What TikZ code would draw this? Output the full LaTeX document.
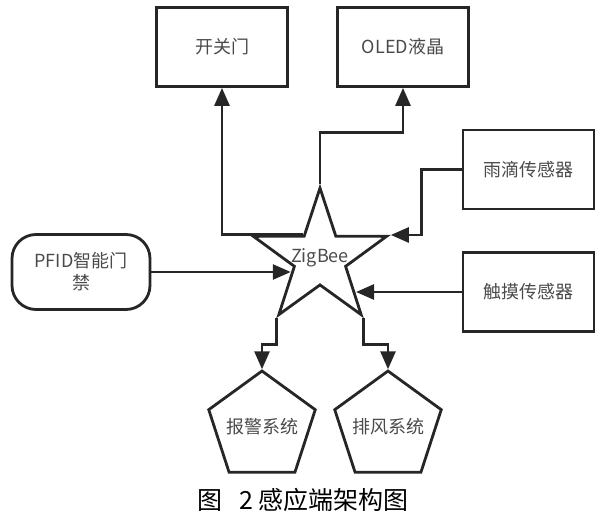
\documentclass[tikz,border=0pt]{standalone}
\usepackage{fontspec}
\setmainfont{Noto Sans CJK SC}
\usetikzlibrary{arrows.meta,
	calc,
	shapes}
\definecolor{linec}{HTML}{262626}
\definecolor{textc}{HTML}{4a4a4a}

\begin{document}
\begin{tikzpicture}[x=1pt,y=-1pt,line width=2.8pt,color=linec]
        \tikzstyle{box}=[draw,rectangle,minimum width=131pt,minimum height=79pt,inner sep=0pt,text=textc,font=\fontsize{18}{22}\selectfont]
        \tikzstyle{pill}=[box,rounded corners=24pt,minimum width=138pt,minimum height=75pt,align=center]
        \tikzstyle{penta}=[draw,regular polygon,regular polygon sides=5,minimum size=112pt,inner sep=0pt,text=textc,font=\fontsize{18}{22}\selectfont]
        \tikzstyle{link}=[-{Triangle[length=18pt,width=15pt]}]
        \useasboundingbox (0,0) rectangle (608,521);
        % outputs on top
        \node[box] (door) at (222,47) {开关门};
        \node[box] (oled) at (403,47) {OLED液晶};
        % sensors on the right
        \node[box] (rain) at (528.5,169.5) {雨滴传感器};
        \node[box] (touch) at (528.5,292) {触摸传感器};
        \node[pill] (pfid) at (81,272) {PFID智能门\\禁};
        % the coordinator
        \node[draw,star,star points=5,star point ratio=2.6,minimum size=140pt,inner sep=0pt] (zig) at (320,258) {};
        \node[text=textc,font=\fontsize{18}{22}\selectfont] (zig_lbl) at (zig.center) {ZigBee};
        \node[penta] (alarm) at (262,427) {\makebox[0pt]{报警系统}};
        \node[penta] (fan) at (388,427) {\makebox[0pt]{排风系统}};
        \coordinate (pfid_tip) at ($(zig.inner point 2)!0.12!(zig.outer point 3)$);
        \coordinate (touch_tip) at ($(zig.inner point 4)!0.53!(zig.outer point 4)$);
        \draw[link] (zig.inner point 1) -| (door.south);
        \draw[link] (zig.outer point 1) -- ++(0,-51) -| (oled.south);
        \draw[link] (rain.west) -- ++(-40,0) |- (zig.outer point 5);
        \draw[link] (touch.west) -- (touch.west -| touch_tip);
        \draw[link] (pfid.east) -- (pfid.east -| pfid_tip);
        \draw[link] (zig.outer point 3) -- ++(0,26) -| (alarm.corner 1);
        \draw[link] (zig.outer point 4) -- ++(0,26) -| (fan.corner 1);
        \node[text=black,font=\fontsize{25}{28}\selectfont] (caption) at (303,500) {图\hspace{0.7em}2\hspace{0.2em}感应端架构图};
      \end{tikzpicture}
\end{document}
